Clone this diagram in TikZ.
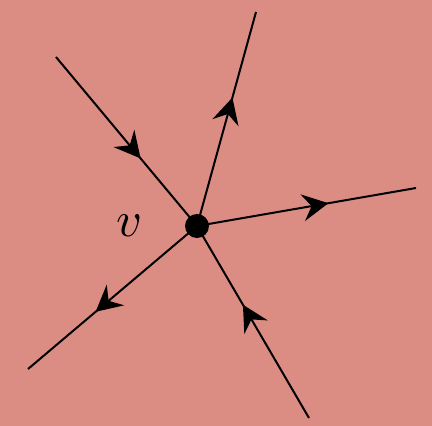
\documentclass[tikz,border=0pt]{standalone}
\usetikzlibrary{arrows.meta,decorations.markings}
\definecolor{bg}{RGB}{219,141,132}
\tikzset{
  edge/.style={line width=2pt, postaction={decorate}, decoration={markings, mark=at position #1 with {\arrow{Stealth[length=26pt,width=27pt,inset=9pt]}}}},
}
\begin{document}
\begin{tikzpicture}[x=1pt,y=-1pt]
\fill[bg] (0,0) rectangle (432,426);
\useasboundingbox (0,0) rectangle (432,426);
\coordinate (c) at (197,226);
\coordinate (ul) at (56,57);
\coordinate (ur) at (256,12);
\coordinate (r) at (416,188);
\coordinate (ll) at (28,369);
\coordinate (lr) at (309,418);
\draw[edge=0.6] (ul) -- (c);
\draw[edge=0.6] (c) -- (ur);
\draw[edge=0.6] (c) -- (r);
\draw[edge=0.6] (c) -- (ll);
\draw[edge=0.59] (lr) -- (c);
\node[circle, fill=black, inner sep=0pt, minimum size=24pt] (v) at (c) {};
\node[scale=5] (lab) at (130,226) {$v$};
\end{tikzpicture}
\end{document}
